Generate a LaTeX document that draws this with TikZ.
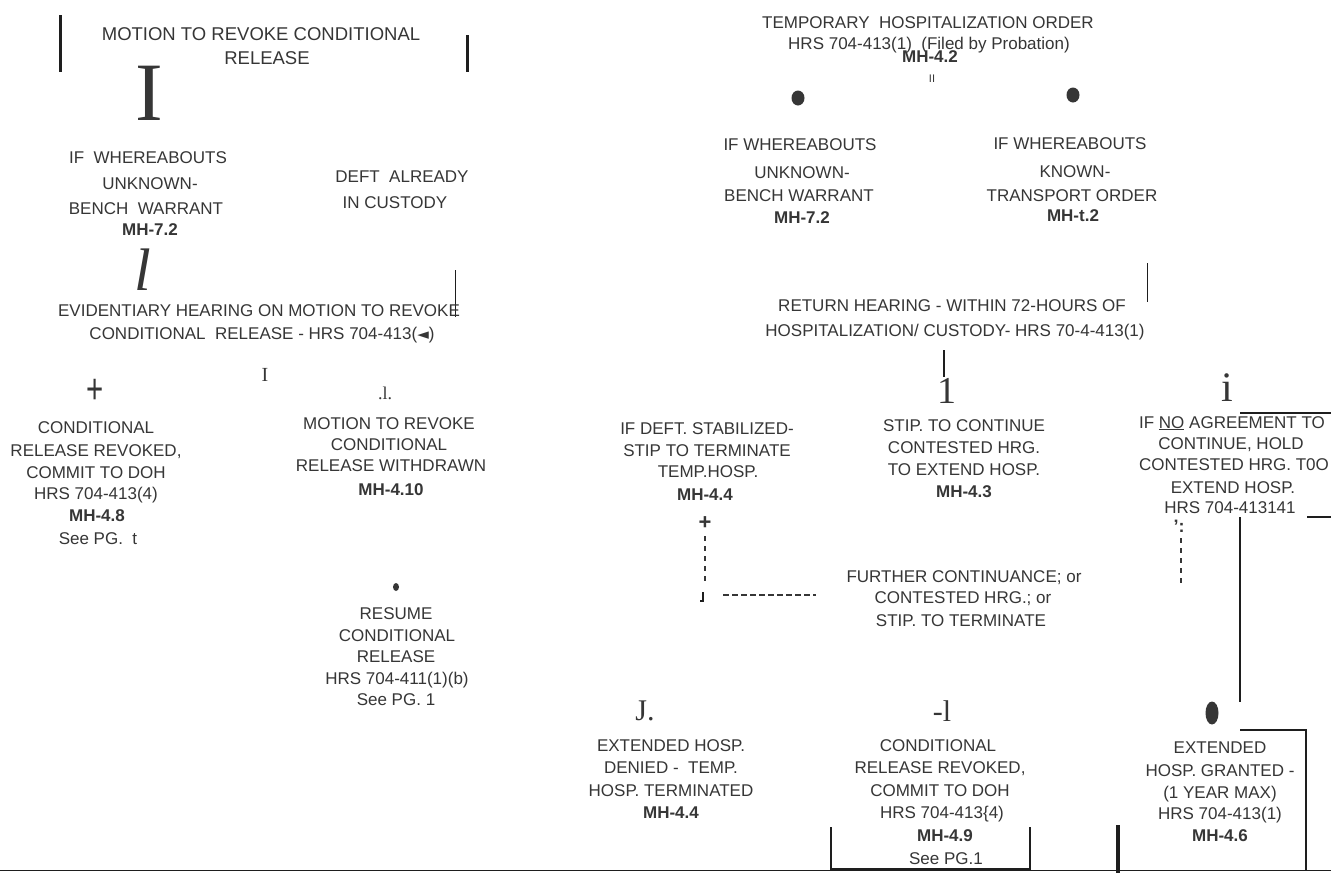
\documentclass[tikz,border=0pt]{standalone}
\usepackage{fontspec}
\setmainfont{Liberation Sans}
\newfontfamily\serifglyph{Liberation Serif}
\newfontfamily\dejavu{DejaVu Sans}
\definecolor{ink}{HTML}{363636}
\definecolor{lineink}{HTML}{1E1E1E}
\tikzset{
  txt/.style={anchor=base, yshift=-6.1pt, inner sep=0pt, text=ink, font=\fontsize{17}{20}\selectfont},
  bld/.style={txt, font=\fontsize{17}{20}\selectfont\bfseries},
  ttl/.style={txt, yshift=-6.6pt, font=\fontsize{18.5}{22}\selectfont},
  glyph/.style={anchor=center, inner sep=0pt, text=ink},
  rulew/.style={draw=lineink, line width=#1},
  dashv/.style={draw=ink, line width=1.4pt, dash pattern=on 5pt off 5pt},
}
\begin{document}
\begin{tikzpicture}[x=1pt,y=-1pt]
\useasboundingbox (0,0) rectangle (1331,873);
\fill[white] (0,0) rectangle (1331,873);

% ---------------- left half ----------------
\node[ttl] (t1) at (261,28) {MOTION TO REVOKE CONDITIONAL};
\node[ttl] (t2) at (267,52) {RELEASE};
\draw[rulew=3pt] (60,15) -- (60,72);
\draw[rulew=3pt] (467,35) -- (467,72);
\node[glyph, font=\serifglyph\fontsize{83}{83}\selectfont] (gI) at (149,93) {I};

\node[txt] (a1) at (148,157) {IF~~WHEREABOUTS};
\node[txt] (a2) at (150,183) {UNKNOWN-};
\node[txt] (a3) at (146,208) {BENCH~~WARRANT};
\node[bld] (a4) at (150,229) {MH-7.2};

\node[txt] (b1) at (402,176) {DEFT~~ALREADY};
\node[txt] (b2) at (395,202) {IN CUSTODY};

\node[glyph, font=\serifglyph\itshape\fontsize{60}{60}\selectfont] (gl) at (143,270) {l};
\draw[rulew=1pt] (455,270) -- (455,317);

\node[txt] (e1) at (259,310) {EVIDENTIARY HEARING ON MOTION TO REVOKE};
\node[txt] (e2) at (262,333) {CONDITIONAL~~RELEASE - HRS 704-413({\dejavu\fontsize{15}{15}\selectfont ◄})};

\node[glyph, font=\serifglyph\fontsize{20}{20}\selectfont] (gI2) at (265,375) {I};
\node[glyph, font=\fontsize{42}{42}\selectfont] (gplus) at (95,391) {\scalebox{0.7}[1]{+}};
\node[glyph, font=\serifglyph\fontsize{18}{18}\selectfont] (gdl) at (385,393) {.l.};

\node[txt] (c1) at (96,427) {CONDITIONAL};
\node[txt] (c2) at (96,450) {RELEASE REVOKED,};
\node[txt] (c3) at (96,472) {COMMIT TO DOH};
\node[txt] (c4) at (96,493) {HRS 704-413(4)};
\node[bld] (c5) at (97,515) {MH-4.8};
\node[txt] (c6) at (98,538) {See PG.~~t};

\node[txt] (d1) at (389,423) {MOTION TO REVOKE};
\node[txt] (d2) at (389,444) {CONDITIONAL};
\node[txt] (d3) at (391,465) {RELEASE WITHDRAWN};
\node[bld] (d4) at (391,489) {MH-4.10};

\fill[ink] (396,587) ellipse [x radius=3pt, y radius=4pt];
\node[txt] (r1) at (396,613) {RESUME};
\node[txt] (r2) at (397,635) {CONDITIONAL};
\node[txt] (r3) at (396,656) {RELEASE};
\node[txt] (r4) at (397,678) {HRS 704-411(1)(b)};
\node[txt] (r5) at (396,699) {See PG. 1};

% ---------------- right half ----------------
\node[txt] (h1) at (928,22) {TEMPORARY~~HOSPITALIZATION ORDER};
\node[txt] (h2) at (929,43) {HRS 704-413(1)~~(Filed by Probation)};
\node[bld] (h3) at (930,56) {MH-4.2};
\node[glyph, font=\fontsize{11}{11}\selectfont] (gII) at (932,79) {II};

\fill[ink] (798,98) ellipse [x radius=6.5pt, y radius=7.5pt];
\fill[ink] (1073,95) ellipse [x radius=6.5pt, y radius=7.5pt];

\node[txt] (u1) at (800,144) {IF WHEREABOUTS};
\node[txt] (u2) at (802,172) {UNKNOWN-};
\node[txt] (u3) at (799,195) {BENCH WARRANT};
\node[bld] (u4) at (802,217) {MH-7.2};

\node[txt] (k1) at (1070,143) {IF WHEREABOUTS};
\node[txt] (k2) at (1075,171) {KNOWN-};
\node[txt] (k3) at (1072,195) {TRANSPORT ORDER};
\node[bld] (k4) at (1073,215) {MH-t.2};

\draw[rulew=1pt] (1147,263) -- (1147,302);
\node[txt] (rh1) at (952,305) {RETURN HEARING - WITHIN 72-HOURS OF};
\node[txt] (rh2) at (955,330) {HOSPITALIZATION/ CUSTODY- HRS 70-4-413(1)};

\draw[rulew=2pt] (944,350) -- (944,377);
\node[glyph, font=\serifglyph\fontsize{38}{38}\selectfont] (g1) at (947,391) {1};
\node[glyph, font=\serifglyph\fontsize{42}{42}\selectfont] (gi) at (1227,388) {i};

\node[txt] (s1) at (707,428) {IF DEFT. STABILIZED-};
\node[txt] (s2) at (707,450) {STIP TO TERMINATE};
\node[txt] (s3) at (708,471) {TEMP.HOSP.};
\node[bld] (s4) at (705,494) {MH-4.4};

\node[txt] (p1) at (964,425) {STIP. TO CONTINUE};
\node[txt] (p2) at (964,447) {CONTESTED HRG.};
\node[txt] (p3) at (964,469) {TO EXTEND HOSP.};
\node[bld] (p4) at (964,491) {MH-4.3};

\node[txt] (n1) at (1232,422) {IF \underline{NO} AGREEMENT TO};
\node[txt] (n2) at (1231,443) {CONTINUE, HOLD};
\node[txt] (n3) at (1234,464) {CONTESTED HRG. T0O};
\node[txt] (n4) at (1233,487) {EXTEND HOSP.};
\node[txt] (n5) at (1230,507) {HRS 704-413141};
\draw[rulew=2pt] (1240,413) -- (1331,413);
\draw[rulew=2pt] (1307,517) -- (1331,517);
\draw[rulew=2pt] (1240,517) -- (1240,702);

% dashed continuance connectors
\node[glyph, font=\bfseries\fontsize{22}{22}\selectfont] (gplus2) at (705,523) {+};
\draw[dashv] (705,536) -- (705,584);
\draw[rulew=2pt] (703,592) -- (703,601) -- (700,601);
\draw[draw=ink, line width=1.6pt, dash pattern=on 6pt off 3pt] (723,595) -- (816,595);
\node[glyph, font=\bfseries\fontsize{18}{18}\selectfont] (gq) at (1179,526) {’:};
\draw[dashv] (1181,538) -- (1181,585);

\node[txt] (f1) at (964,576) {FURTHER CONTINUANCE; or};
\node[txt] (f2) at (963,597) {CONTESTED HRG.; or};
\node[txt] (f3) at (961,620) {STIP. TO TERMINATE};

% bottom row
\node[glyph, font=\serifglyph\fontsize{30}{30}\selectfont] (gJ) at (645,711) {J.};
\node[txt] (x1) at (671,745) {EXTENDED HOSP.};
\node[txt] (x2) at (671,767) {DENIED -~~TEMP.};
\node[txt] (x3) at (671,790) {HOSP. TERMINATED};
\node[bld] (x4) at (671,812) {MH-4.4};

\node[glyph, font=\serifglyph\fontsize{30}{30}\selectfont] (gdash) at (942,711) {-l};
\node[txt] (y1) at (938,745) {CONDITIONAL};
\node[txt] (y2) at (940,767) {RELEASE REVOKED,};
\node[txt] (y3) at (940,790) {COMMIT TO DOH};
\node[txt] (y4) at (942,812) {HRS 704-413\{4)};
\node[bld] (y5) at (945,835) {MH-4.9};
\node[txt] (y6) at (946,858) {See PG.1};

\fill[ink] (1212,713) ellipse [x radius=6.5pt, y radius=11.5pt];
\node[txt] (z1) at (1220,747) {EXTENDED};
\node[txt] (z2) at (1220,770) {HOSP. GRANTED -};
\node[txt] (z3) at (1220,792) {(1 YEAR MAX)};
\node[txt] (z4) at (1220,813) {HRS 704-413(1)};
\node[bld] (z5) at (1220,835) {MH-4.6};

\draw[rulew=2pt] (1240,730) -- (1306,730) -- (1306,870);
\draw[rulew=1.5pt] (831,827) -- (831,870);
\draw[rulew=1.5pt] (1030,827) -- (1030,870);
\draw[rulew=3.5pt] (1118,825) -- (1118,873);
\draw[draw=lineink, line width=1pt] (0,870.5) -- (1331,870.5);
\draw[rulew=2.5pt] (831,869) -- (1030,869);
\end{tikzpicture}
\end{document}
